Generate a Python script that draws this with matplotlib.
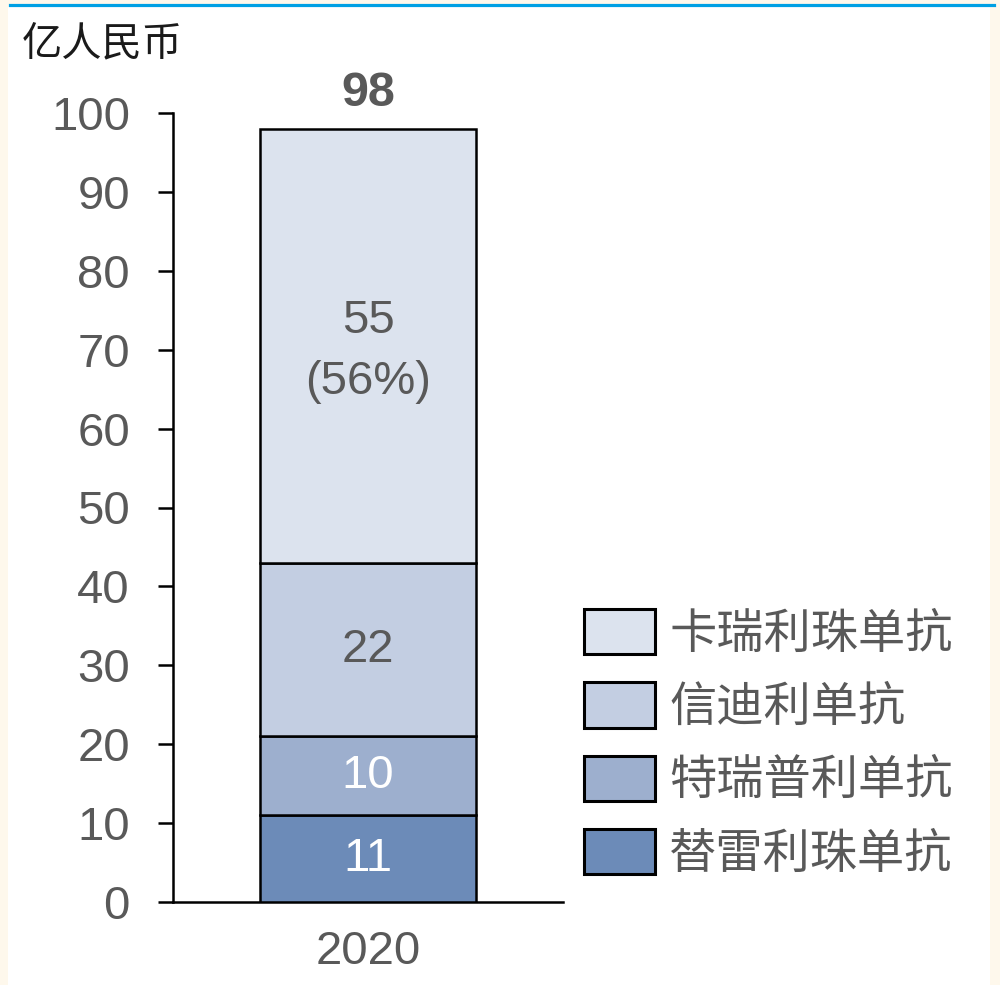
import matplotlib
matplotlib.use("Agg")
import matplotlib.pyplot as plt
from matplotlib.patches import Rectangle, Patch
from matplotlib.lines import Line2D

plt.rcParams['font.family'] = ['Liberation Sans', 'Noto Sans CJK SC']

# PD-1 sales, 2020 (100m RMB), bottom to top of the stack
year = '2020'
drugs = ['替雷利珠单抗', '特瑞普利单抗', '信迪利单抗', '卡瑞利珠单抗']
sales = [11, 10, 22, 55]
colors = ['#6C8BB8', '#9DAFCE', '#C3CEE2', '#DCE3EE']
label_colors = ['white', 'white', '#595959', '#595959']
unit = '亿人民币'

grey = '#595959'
fs = 34

fig = plt.figure(figsize=(10, 9.85), dpi=100, facecolor='#FEF8EC')
# white page with the blue rule on top
fig.patches.append(Rectangle((0.008, 0), 0.982, 1 - 7 / 985, transform=fig.transFigure,
                             facecolor='white', edgecolor='none', zorder=-10))
fig.lines.append(Line2D([0.010, 0.994], [1 - 5 / 985, 1 - 5 / 985], transform=fig.transFigure,
                        color='#00A0E4', lw=2.3, zorder=-5))

ax = fig.add_axes([0.173, 83 / 985, 0.39, 789 / 985])
ax.set_facecolor('none')

total = sum(sales)
bottom = 0
for i, (name, v) in enumerate(zip(drugs, sales)):
    ax.bar(0, v, width=1.0, bottom=bottom, color=colors[i], edgecolor='black',
           linewidth=1.8, label=name, zorder=3)
    txt = str(v)
    dy = 0
    if i == len(sales) - 1:
        txt = f'{v}\n({round(v / total * 100)}%)'
        dy = -4
    ax.annotate(txt, (0, bottom + v / 2), xytext=(0, dy), textcoords='offset points',
                ha='center', va='center', fontsize=fs, color=label_colors[i],
                linespacing=1.5, zorder=4)
    bottom += v

ax.annotate(str(total), (0, total), xytext=(0, 9), textcoords='offset points',
            ha='center', va='bottom', fontsize=fs + 1, fontweight='bold', color=grey)

ax.set_xlim(-0.9, 0.9)
ax.set_ylim(0, 100)
ax.set_yticks(range(0, 101, 10))
ax.set_xticks([0])
ax.set_xticklabels([year])
ax.tick_params(axis='y', direction='out', length=11, width=1.8, pad=20,
               labelsize=fs, labelcolor=grey, color='black')
ax.tick_params(axis='x', length=0, pad=20, labelsize=fs, labelcolor=grey)
for s in ['top', 'right']:
    ax.spines[s].set_visible(False)
for s in ['left', 'bottom']:
    ax.spines[s].set_linewidth(1.8)
    ax.spines[s].set_color('black')

handles = [Patch(facecolor=colors[i], edgecolor='black', linewidth=2.2, label=drugs[i])
           for i in reversed(range(len(drugs)))]
fig.legend(handles=handles, loc='upper left', bbox_to_anchor=(0.584, 1 - 609 / 985),
           frameon=False, prop={'family': 'Noto Sans CJK SC', 'size': 34},
           handlelength=1.5, handleheight=1.1, handletextpad=0.3,
           labelspacing=0.5, borderpad=0, borderaxespad=0, labelcolor=grey)

fig.text(0.022, 1 - 44 / 985, unit, fontsize=29, family='Noto Sans CJK SC',
         color='#1A1A1A', ha='left', va='center')

fig.savefig('out.png', dpi=100, facecolor=fig.get_facecolor())
